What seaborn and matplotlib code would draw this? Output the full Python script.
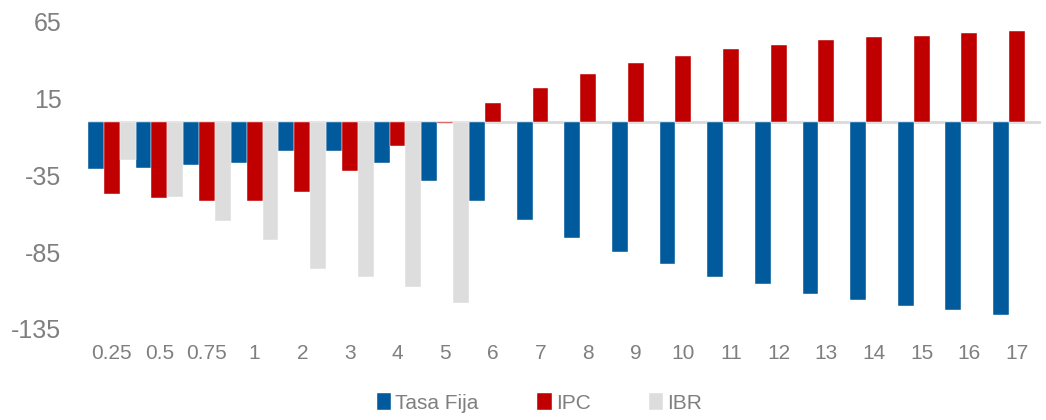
import numpy as np
import pandas as pd
import matplotlib
matplotlib.use("Agg")
import matplotlib.pyplot as plt
import seaborn as sns

# data
plazos = ["0.25", "0.5", "0.75", "1", "2", "3", "4", "5", "6", "7", "8",
          "9", "10", "11", "12", "13", "14", "15", "16", "17"]
tasa_fija = [-31, -30, -28, -27, -19, -19, -27, -39, -52, -64, -76,
             -85, -93, -101, -106, -112, -116, -120, -123, -126]
ipc = [-47, -50, -52, -52, -46, -32, -16, -1, 12, 22, 31,
       38, 43, 47, 50, 53, 55, 56, 58, 59]
ibr = [-25, -49, -65, -77, -96, -101, -108, -118] + [np.nan] * 12

series = ["Tasa Fija", "IPC", "IBR"]
colores = ["#005A9C", "#C00000", "#DDDDDD"]
y_ticks = [65, 15, -35, -85, -135]

data = pd.DataFrame({
    "plazo": plazos * 3,
    "valor": tasa_fija + ipc + ibr,
    "serie": [s for s in series for _ in plazos],
})

sns.set_theme(style="white")
plt.rcParams["font.family"] = ["Liberation Sans", "DejaVu Sans"]
plt.rcParams["axes.unicode_minus"] = False

fig = plt.figure(figsize=(10.46, 4.20), dpi=100)
ax = fig.add_axes([0.084, 0.217, 0.911, 0.731])

sns.barplot(data=data, x="plazo", y="valor", hue="serie", order=plazos,
            hue_order=series, palette=colores, saturation=1, width=1.0,
            ax=ax, linewidth=0.3, edgecolor="white", zorder=2)

ax.axhline(0, color="#D9D9D9", lw=2, zorder=1)

ax.set_xlim(-0.5, len(plazos) - 0.5)
ax.set_ylim(-135, 65)
ax.set_yticks(y_ticks)
ax.set_xlabel("")
ax.set_ylabel("")
sns.despine(ax=ax, left=True, bottom=True)
ax.tick_params(axis="y", length=0, pad=19, labelsize=18, labelcolor="#7F7F7F")
ax.tick_params(axis="x", length=0, pad=11, labelsize=15, labelcolor="#7F7F7F")

sns.move_legend(ax, "lower center", bbox_to_anchor=(0.474, -0.335), ncol=3,
                title=None, frameon=False, fontsize=15, labelcolor="#7F7F7F",
                handlelength=0.7, handleheight=0.9, handletextpad=0.2,
                columnspacing=2.8)

fig.savefig("out.png", dpi=100)
